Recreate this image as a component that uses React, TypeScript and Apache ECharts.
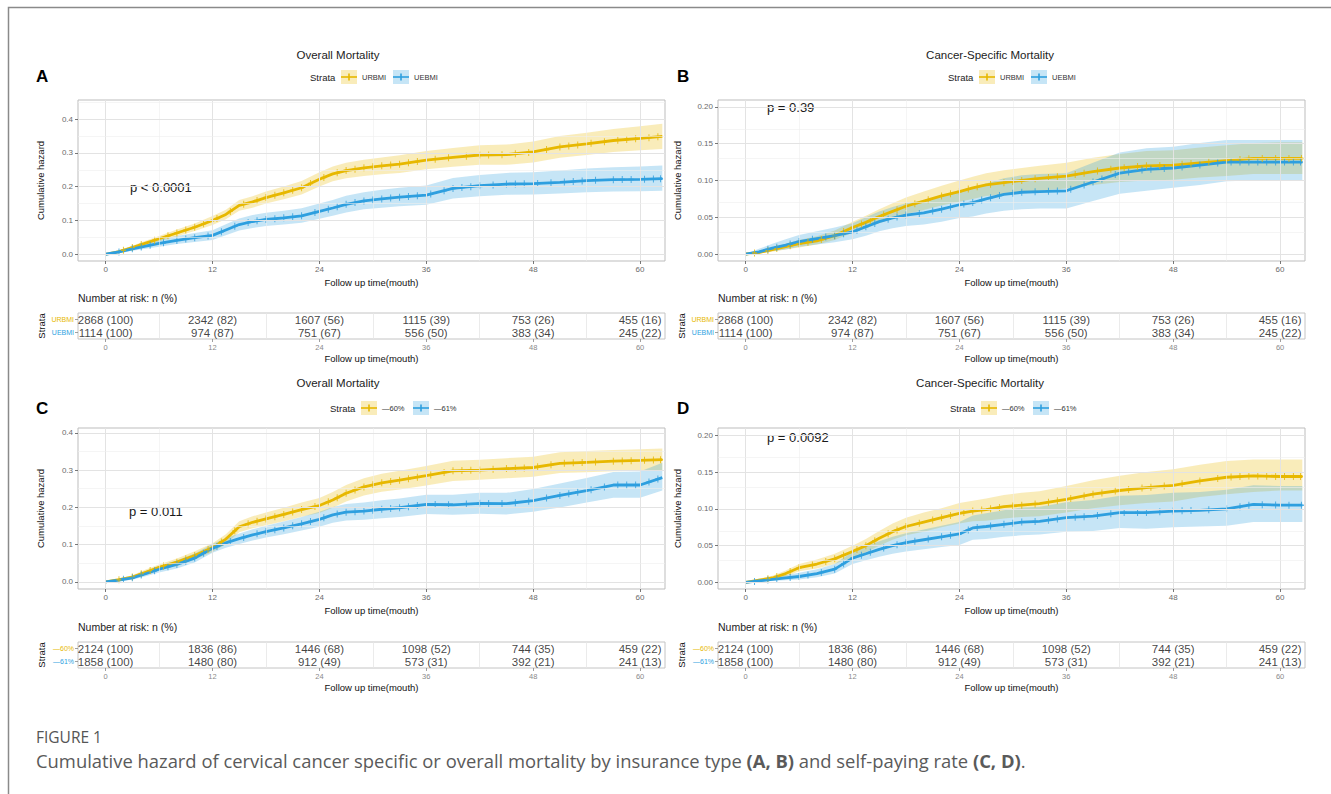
import React, { useEffect, useRef } from 'react';
import * as echarts from 'echarts';

// ---------- data ----------
const T = [0, 1.5, 3, 4.5, 6, 8, 10, 12, 13.5, 15, 16.5, 18, 20, 22, 24, 25.5, 27, 29, 31, 33, 36, 39, 42, 45, 48, 51, 54, 57, 60, 62.5];

// Panel A (overall mortality, insurance)
const A_URBMI = [0, 0.008, 0.02, 0.033, 0.046, 0.063, 0.08, 0.1, 0.118, 0.145, 0.155, 0.168, 0.182, 0.197, 0.222, 0.238, 0.248, 0.256, 0.262, 0.267, 0.279, 0.287, 0.294, 0.295, 0.303, 0.318, 0.327, 0.337, 0.343, 0.349];
const A_URBMI_UP = [0, 0.011, 0.025, 0.04, 0.054, 0.073, 0.091, 0.113, 0.132, 0.161, 0.172, 0.186, 0.201, 0.217, 0.243, 0.26, 0.271, 0.28, 0.287, 0.293, 0.306, 0.315, 0.323, 0.325, 0.334, 0.35, 0.36, 0.371, 0.379, 0.387];
const A_URBMI_LO = [0, 0.005, 0.015, 0.026, 0.038, 0.053, 0.069, 0.087, 0.104, 0.129, 0.138, 0.15, 0.163, 0.177, 0.201, 0.216, 0.225, 0.232, 0.237, 0.241, 0.252, 0.259, 0.265, 0.265, 0.272, 0.286, 0.294, 0.303, 0.308, 0.312];
const A_UEBMI = [0, 0.007, 0.016, 0.024, 0.032, 0.041, 0.049, 0.056, 0.072, 0.088, 0.097, 0.103, 0.108, 0.114, 0.127, 0.137, 0.148, 0.158, 0.164, 0.169, 0.175, 0.195, 0.203, 0.208, 0.209, 0.213, 0.218, 0.221, 0.222, 0.224];
const A_UEBMI_UP = [0, 0.012, 0.024, 0.034, 0.043, 0.054, 0.063, 0.071, 0.089, 0.106, 0.116, 0.123, 0.129, 0.136, 0.15, 0.161, 0.173, 0.184, 0.191, 0.197, 0.204, 0.226, 0.235, 0.241, 0.243, 0.248, 0.254, 0.258, 0.26, 0.263];
const A_UEBMI_LO = [0, 0.003, 0.01, 0.016, 0.022, 0.03, 0.036, 0.042, 0.056, 0.07, 0.078, 0.084, 0.088, 0.093, 0.105, 0.114, 0.124, 0.133, 0.138, 0.142, 0.147, 0.165, 0.172, 0.176, 0.177, 0.18, 0.184, 0.186, 0.187, 0.188];

// Panel B (cancer-specific mortality, insurance)
const B_URBMI = [0, 0.002, 0.006, 0.01, 0.014, 0.018, 0.025, 0.036, 0.043, 0.051, 0.058, 0.065, 0.072, 0.079, 0.085, 0.09, 0.094, 0.097, 0.1, 0.103, 0.106, 0.112, 0.117, 0.12, 0.121, 0.124, 0.127, 0.13, 0.13, 0.13];
const B_URBMI_UP = [0, 0.004, 0.009, 0.014, 0.019, 0.024, 0.032, 0.044, 0.052, 0.061, 0.069, 0.077, 0.085, 0.093, 0.1, 0.105, 0.11, 0.114, 0.117, 0.12, 0.124, 0.131, 0.136, 0.14, 0.141, 0.145, 0.148, 0.151, 0.152, 0.152];
const B_URBMI_LO = [0, 0.001, 0.003, 0.006, 0.009, 0.013, 0.019, 0.029, 0.035, 0.042, 0.048, 0.054, 0.06, 0.066, 0.071, 0.075, 0.079, 0.081, 0.084, 0.086, 0.089, 0.094, 0.098, 0.1, 0.101, 0.104, 0.106, 0.109, 0.109, 0.109];
const B_UEBMI = [0, 0.003, 0.008, 0.012, 0.017, 0.021, 0.025, 0.03, 0.037, 0.044, 0.049, 0.053, 0.056, 0.061, 0.067, 0.07, 0.075, 0.081, 0.084, 0.085, 0.086, 0.098, 0.11, 0.115, 0.117, 0.121, 0.125, 0.125, 0.125, 0.125];
const B_UEBMI_UP = [0, 0.007, 0.014, 0.02, 0.026, 0.031, 0.036, 0.042, 0.05, 0.058, 0.064, 0.069, 0.073, 0.079, 0.086, 0.09, 0.096, 0.103, 0.107, 0.109, 0.11, 0.124, 0.138, 0.144, 0.146, 0.151, 0.155, 0.155, 0.155, 0.155];
const B_UEBMI_LO = [0, 0.001, 0.004, 0.006, 0.01, 0.013, 0.016, 0.02, 0.025, 0.031, 0.035, 0.038, 0.04, 0.044, 0.049, 0.051, 0.055, 0.059, 0.061, 0.062, 0.062, 0.072, 0.082, 0.086, 0.09, 0.094, 0.099, 0.1, 0.1, 0.1];

// Panel C (overall mortality, self-paying rate)
const C_LOW = [0, 0.006, 0.013, 0.026, 0.039, 0.053, 0.071, 0.092, 0.115, 0.148, 0.16, 0.169, 0.181, 0.194, 0.205, 0.22, 0.238, 0.255, 0.266, 0.273, 0.285, 0.298, 0.3, 0.304, 0.307, 0.318, 0.321, 0.324, 0.326, 0.328];
const C_LOW_UP = [0, 0.009, 0.018, 0.033, 0.047, 0.063, 0.082, 0.104, 0.128, 0.163, 0.176, 0.186, 0.199, 0.213, 0.225, 0.241, 0.26, 0.278, 0.29, 0.298, 0.311, 0.325, 0.328, 0.332, 0.336, 0.348, 0.351, 0.354, 0.356, 0.358];
const C_LOW_LO = [0, 0.003, 0.008, 0.019, 0.031, 0.043, 0.06, 0.08, 0.102, 0.133, 0.144, 0.152, 0.163, 0.175, 0.185, 0.199, 0.216, 0.232, 0.242, 0.248, 0.259, 0.271, 0.274, 0.278, 0.282, 0.292, 0.294, 0.297, 0.298, 0.3];
const C_HIGH = [0, 0.005, 0.011, 0.022, 0.034, 0.047, 0.064, 0.09, 0.105, 0.116, 0.126, 0.135, 0.145, 0.156, 0.168, 0.18, 0.187, 0.19, 0.195, 0.199, 0.208, 0.207, 0.211, 0.21, 0.218, 0.232, 0.245, 0.26, 0.26, 0.28];
const C_HIGH_UP = [0, 0.008, 0.016, 0.029, 0.043, 0.058, 0.076, 0.102, 0.118, 0.13, 0.141, 0.151, 0.162, 0.174, 0.188, 0.201, 0.209, 0.213, 0.219, 0.224, 0.234, 0.234, 0.239, 0.239, 0.249, 0.264, 0.279, 0.295, 0.296, 0.32];
const C_HIGH_LO = [0, 0.002, 0.006, 0.015, 0.025, 0.036, 0.052, 0.078, 0.092, 0.102, 0.111, 0.119, 0.128, 0.138, 0.148, 0.159, 0.165, 0.167, 0.171, 0.174, 0.182, 0.18, 0.183, 0.181, 0.188, 0.2, 0.213, 0.226, 0.226, 0.245];

// Panel D (cancer-specific mortality, self-paying rate)
const D_LOW = [0, 0.003, 0.006, 0.012, 0.02, 0.025, 0.032, 0.042, 0.05, 0.06, 0.069, 0.076, 0.082, 0.088, 0.094, 0.097, 0.099, 0.103, 0.105, 0.107, 0.113, 0.12, 0.125, 0.129, 0.132, 0.138, 0.143, 0.145, 0.144, 0.144];
const D_LOW_UP = [0, 0.005, 0.009, 0.016, 0.025, 0.031, 0.039, 0.05, 0.059, 0.07, 0.08, 0.088, 0.095, 0.101, 0.108, 0.111, 0.114, 0.119, 0.122, 0.124, 0.131, 0.139, 0.145, 0.15, 0.154, 0.16, 0.165, 0.167, 0.167, 0.167];
const D_LOW_LO = [0, 0.001, 0.003, 0.008, 0.015, 0.019, 0.025, 0.034, 0.041, 0.05, 0.058, 0.064, 0.069, 0.075, 0.08, 0.083, 0.084, 0.087, 0.089, 0.09, 0.095, 0.101, 0.105, 0.108, 0.11, 0.116, 0.12, 0.123, 0.125, 0.125];
const D_HIGH = [0, 0.002, 0.004, 0.006, 0.008, 0.012, 0.018, 0.033, 0.039, 0.045, 0.05, 0.054, 0.058, 0.062, 0.066, 0.074, 0.076, 0.079, 0.082, 0.083, 0.088, 0.09, 0.095, 0.095, 0.097, 0.098, 0.1, 0.106, 0.105, 0.105];
const D_HIGH_UP = [0, 0.004, 0.007, 0.01, 0.013, 0.018, 0.025, 0.042, 0.049, 0.056, 0.062, 0.067, 0.072, 0.077, 0.082, 0.091, 0.094, 0.098, 0.102, 0.103, 0.109, 0.112, 0.118, 0.119, 0.122, 0.123, 0.126, 0.132, 0.131, 0.131];
const D_HIGH_LO = [0, 0.001, 0.002, 0.003, 0.004, 0.007, 0.012, 0.025, 0.03, 0.035, 0.039, 0.042, 0.045, 0.048, 0.051, 0.058, 0.059, 0.062, 0.064, 0.065, 0.069, 0.07, 0.074, 0.073, 0.075, 0.076, 0.077, 0.082, 0.082, 0.082];

// censoring times (visible "+" marks)
const CENS_1 = [2, 3, 4, 5.5, 7, 8, 9, 10, 11, 12.5, 14, 15.5, 17, 18, 19, 20, 21, 22, 23, 24.5, 26, 27, 28, 29, 30, 31, 32, 33, 34, 35, 37, 38.5, 40.5, 42, 43, 44.5, 46, 47.5, 49.5, 51, 52, 53, 54.5, 56, 57.5, 58.5, 59.5, 61, 62];
const CENS_2 = [1.5, 3, 4, 5, 6.5, 8, 9, 10, 11.5, 13, 14.5, 16, 17, 18, 19, 20, 21, 22, 23.5, 25, 26, 27, 28, 29, 30, 31, 32, 33, 34, 35, 36.5, 38, 39, 40, 41, 42, 43.5, 45, 46, 47, 48.5, 50, 51.5, 52.5, 53.5, 55, 57, 58, 59, 60.5, 61.5, 62.3];
const CENS_3 = [1, 2.5, 3.5, 5, 6, 7, 8.5, 10, 11, 12, 13, 14, 15.5, 17, 18, 19, 20.5, 22, 23, 24, 25, 26, 27.5, 29, 30, 31, 32.5, 34, 35, 37, 38, 39.5, 41, 42.5, 44, 45, 46.5, 48, 49, 50, 52, 54, 55.5, 56.5, 58, 59.5, 61, 62.4];
const CENS_4 = [2.5, 3.5, 5, 6, 7.5, 9, 10, 11, 12.5, 13.5, 14.5, 16, 17, 18, 19.5, 21, 22, 23, 24.5, 25.5, 26.5, 27.5, 28.5, 30, 31, 32.5, 34, 35, 36.5, 38, 39, 40, 41.5, 43, 44.5, 45.5, 47, 49, 51, 53, 54.5, 55.5, 56.5, 57.5, 58.5, 59.5, 60.5, 61.5, 62.3];

// time ticks
const XTICKS = [0, 12, 24, 36, 48, 60];
const XMINOR = [6, 18, 30, 42, 54];
const Y_TICKS_ALL = [0, 0.1, 0.2, 0.3, 0.4];
const Y_MINOR_ALL = [0.05, 0.15, 0.25, 0.35, 0.45];
const Y_TICKS_CS = [0, 0.05, 0.1, 0.15, 0.2];
const Y_MINOR_CS = [0.025, 0.075, 0.125, 0.175];

// risk tables
const RISK_TIMES = [0, 12, 24, 36, 48, 60];
const RISK_URBMI_N = [2868, 2342, 1607, 1115, 753, 455];
const RISK_URBMI_P = [100, 82, 56, 39, 26, 16];
const RISK_UEBMI_N = [1114, 974, 751, 556, 383, 245];
const RISK_UEBMI_P = [100, 87, 67, 50, 34, 22];
const RISK_LOW_N = [2124, 1836, 1446, 1098, 744, 459];
const RISK_LOW_P = [100, 86, 68, 52, 35, 22];
const RISK_HIGH_N = [1858, 1480, 912, 573, 392, 241];
const RISK_HIGH_P = [100, 80, 49, 31, 21, 13];

const STRATA_INS = ['URBMI', 'UEBMI'];
const STRATA_PAY = ['—60%', '—61%'];

// ---------- styles ----------
const FONT = '"Liberation Sans", Arial, Helvetica, sans-serif';
const CAP_FONT = '"Open Sans", sans-serif';
const COL_Y = '#E7B800';
const COL_B = '#2E9FDF';
const FILL_Y = 'rgba(231,184,0,0.27)';
const FILL_B = 'rgba(46,159,223,0.27)';
const XMIN = -3.1;
const XMAX = 62.8;
const PLUS = 'path://M4,0L6,0L6,4L10,4L10,6L6,6L6,10L4,10L4,6L0,6L0,4L4,4Z';

function interp(ts: number[], vs: number[], t: number) {
  for (let i = 1; i < ts.length; i++) {
    if (t <= ts[i]) {
      const f = (t - ts[i - 1]) / (ts[i] - ts[i - 1]);
      return vs[i - 1] + f * (vs[i] - vs[i - 1]);
    }
  }
  return vs[vs.length - 1];
}

const PANELS = [
  {
    letter: 'A', title: 'Overall Mortality', left: 78, top: 100, ymin: -0.02, ymax: 0.457,
    yt: Y_TICKS_ALL, ym: Y_MINOR_ALL, dec: 1, strata: STRATA_INS, pval: 'p < 0.0001', px: 130, py: 187,
    curves: [
      { v: A_URBMI, up: A_URBMI_UP, lo: A_URBMI_LO, cens: CENS_1, col: COL_Y, fill: FILL_Y },
      { v: A_UEBMI, up: A_UEBMI_UP, lo: A_UEBMI_LO, cens: CENS_2, col: COL_B, fill: FILL_B },
    ],
    risk: [[RISK_URBMI_N, RISK_URBMI_P], [RISK_UEBMI_N, RISK_UEBMI_P]],
    titleX: 338, titleY: 55, legY: 77, legX: 310, letterX: 36, letterY: 76, tableTop: 313,
  },
  {
    letter: 'B', title: 'Cancer-Specific Mortality', left: 718, top: 100, ymin: -0.0095, ymax: 0.2095,
    yt: Y_TICKS_CS, ym: Y_MINOR_CS, dec: 2, strata: STRATA_INS, pval: 'p = 0.39', px: 767, py: 107,
    curves: [
      { v: B_URBMI, up: B_URBMI_UP, lo: B_URBMI_LO, cens: CENS_3, col: COL_Y, fill: FILL_Y },
      { v: B_UEBMI, up: B_UEBMI_UP, lo: B_UEBMI_LO, cens: CENS_4, col: COL_B, fill: FILL_B },
    ],
    risk: [[RISK_URBMI_N, RISK_URBMI_P], [RISK_UEBMI_N, RISK_UEBMI_P]],
    titleX: 990, titleY: 55, legY: 77, legX: 948, letterX: 677, letterY: 76, tableTop: 313,
  },
  {
    letter: 'C', title: 'Overall Mortality', left: 78, top: 428, ymin: -0.019, ymax: 0.413,
    yt: Y_TICKS_ALL, ym: Y_MINOR_ALL, dec: 1, strata: STRATA_PAY, pval: 'p = 0.011', px: 129, py: 511,
    curves: [
      { v: C_LOW, up: C_LOW_UP, lo: C_LOW_LO, cens: CENS_2, col: COL_Y, fill: FILL_Y },
      { v: C_HIGH, up: C_HIGH_UP, lo: C_HIGH_LO, cens: CENS_1, col: COL_B, fill: FILL_B },
    ],
    risk: [[RISK_LOW_N, RISK_LOW_P], [RISK_HIGH_N, RISK_HIGH_P]],
    titleX: 338, titleY: 383, legY: 408, legX: 330, letterX: 36, letterY: 408, tableTop: 642,
  },
  {
    letter: 'D', title: 'Cancer-Specific Mortality', left: 718, top: 428, ymin: -0.009, ymax: 0.21,
    yt: Y_TICKS_CS, ym: Y_MINOR_CS, dec: 2, strata: STRATA_PAY, pval: 'p = 0.0092', px: 767, py: 437,
    curves: [
      { v: D_LOW, up: D_LOW_UP, lo: D_LOW_LO, cens: CENS_4, col: COL_Y, fill: FILL_Y },
      { v: D_HIGH, up: D_HIGH_UP, lo: D_HIGH_LO, cens: CENS_3, col: COL_B, fill: FILL_B },
    ],
    risk: [[RISK_LOW_N, RISK_LOW_P], [RISK_HIGH_N, RISK_HIGH_P]],
    titleX: 980, titleY: 383, legY: 408, legX: 950, letterX: 677, letterY: 408, tableTop: 642,
  },
];

const PLOT_W = 587;
const PLOT_H = 161;
const TABLE_H = 26;

function buildOption() {
  const grid: any[] = [];
  const xAxis: any[] = [];
  const yAxis: any[] = [];
  const series: any[] = [];
  const graphic: any[] = [];

  const tickLabel = { fontSize: 8, color: '#6b6b6b', fontFamily: FONT };
  const axisName = { fontSize: 9.5, color: '#111', fontFamily: FONT };

  PANELS.forEach((p, i) => {
    const gPlot = i * 2;
    const gTab = i * 2 + 1;
    grid.push({ left: p.left, top: p.top, width: PLOT_W, height: PLOT_H, show: true, borderColor: '#bdbdbd', borderWidth: 1, backgroundColor: '#fff' });
    grid.push({ left: p.left, top: p.tableTop, width: PLOT_W, height: TABLE_H, show: true, borderColor: '#c4c4c4', borderWidth: 1, backgroundColor: '#fff' });

    xAxis.push({
      gridIndex: gPlot, type: 'value', min: XMIN, max: XMAX, position: 'bottom',
      axisLine: { show: false, onZero: false },
      axisTick: { show: true, customValues: XTICKS, length: 3, lineStyle: { color: '#555', width: 0.8 } },
      axisLabel: { show: true, customValues: XTICKS, margin: 4, ...tickLabel },
      splitLine: { show: false },
      name: 'Follow up time(mouth)', nameLocation: 'middle', nameGap: 16, nameTextStyle: axisName,
    });
    xAxis.push({
      gridIndex: gTab, type: 'value', min: XMIN, max: XMAX, position: 'bottom',
      axisLine: { show: false, onZero: false },
      axisTick: { show: true, customValues: XTICKS, length: 3, lineStyle: { color: '#888', width: 0.8 } },
      axisLabel: { show: true, customValues: XTICKS, margin: 4, fontSize: 7.5, color: '#8a8a8a', fontFamily: FONT },
      splitLine: { show: false },
      name: 'Follow up time(mouth)', nameLocation: 'middle', nameGap: 14, nameTextStyle: axisName,
    });
    yAxis.push({
      gridIndex: gPlot, type: 'value', min: p.ymin, max: p.ymax, position: 'left',
      axisLine: { show: false, onZero: false },
      axisTick: { show: true, customValues: p.yt, length: 3, lineStyle: { color: '#555', width: 0.8 } },
      axisLabel: { show: true, customValues: p.yt, margin: 5, formatter: (v: number) => v.toFixed(p.dec), ...tickLabel },
      splitLine: { show: false },
      name: 'Cumulative hazard', nameLocation: 'middle', nameRotate: 90, nameGap: p.dec === 1 ? 33 : 36, nameTextStyle: axisName,
    });
    const cats = [p.strata[1], p.strata[0]];
    yAxis.push({
      gridIndex: gTab, type: 'category', data: cats, position: 'left',
      axisLine: { show: false, onZero: false },
      axisTick: { show: true, alignWithLabel: true, length: 3, lineStyle: { color: '#888', width: 0.8 } },
      axisLabel: {
        show: true, margin: 4, fontSize: 7, fontFamily: FONT,
        formatter: (v: string) => (v === p.strata[0] ? `{y|${v}}` : `{b|${v}}`),
        rich: { y: { color: COL_Y, fontSize: 7, fontFamily: FONT }, b: { color: COL_B, fontSize: 7, fontFamily: FONT } },
      },
      splitLine: { show: false },
      name: 'Strata', nameLocation: 'middle', nameRotate: 90, nameGap: 32, nameTextStyle: axisName,
    });

    // grid lines
    const major = { color: '#e3e3e3', width: 1, type: 'solid' };
    const minor = { color: '#eeeeee', width: 0.6, type: 'solid' };
    const lines: any[] = [];
    XTICKS.forEach((v) => lines.push({ xAxis: v, lineStyle: major }));
    XMINOR.forEach((v) => lines.push({ xAxis: v, lineStyle: minor }));
    p.yt.forEach((v) => lines.push({ yAxis: v, lineStyle: major }));
    p.ym.forEach((v) => { if (v < p.ymax) lines.push({ yAxis: v, lineStyle: minor }); });
    series.push({
      type: 'line', xAxisIndex: gPlot, yAxisIndex: gPlot, data: [], silent: true, z: 1,
      markLine: { silent: true, symbol: ['none', 'none'], label: { show: false }, animation: false, data: lines },
    });
    const tLines = XMINOR.map((v) => ({ xAxis: v, lineStyle: { color: '#e6e6e6', width: 0.8, type: 'solid' } }));
    series.push({
      type: 'line', xAxisIndex: gTab, yAxisIndex: gTab, data: [], silent: true, z: 1,
      markLine: { silent: true, symbol: ['none', 'none'], label: { show: false }, animation: false, data: tLines },
    });

    // ribbons
    p.curves.forEach((c, ci) => {
      series.push({
        type: 'custom', name: p.strata[ci] + ' CI', xAxisIndex: gPlot, yAxisIndex: gPlot, clip: true, silent: true, z: 2,
        data: [[0, 0]],
        renderItem: (params: any, api: any) => {
          const pts: number[][] = [];
          for (let k = 0; k < T.length; k++) pts.push(api.coord([T[k], c.up[k]]));
          for (let k = T.length - 1; k >= 0; k--) pts.push(api.coord([T[k], c.lo[k]]));
          return { type: 'polygon', shape: { points: pts }, style: { fill: c.fill } };
        },
      });
    });
    // lines + censor marks
    p.curves.forEach((c, ci) => {
      series.push({
        type: 'line', name: p.strata[ci], xAxisIndex: gPlot, yAxisIndex: gPlot, z: 3, silent: true,
        showSymbol: false, data: T.map((t, k) => [t, c.v[k]]),
        lineStyle: { color: c.col, width: 2.8 }, itemStyle: { color: c.col },
      });
      series.push({
        type: 'scatter', name: p.strata[ci] + ' censor', xAxisIndex: gPlot, yAxisIndex: gPlot, z: 4, silent: true,
        symbol: PLUS, symbolSize: [5, 7], itemStyle: { color: c.col },
        data: c.cens.map((t) => [t, interp(T, c.v, t)]),
      });
    });
    // risk table text
    p.risk.forEach((r, ri) => {
      series.push({
        type: 'scatter', xAxisIndex: gTab, yAxisIndex: gTab, z: 5, silent: true,
        symbolSize: 0, itemStyle: { color: 'rgba(0,0,0,0)' },
        data: RISK_TIMES.map((t, k) => ({
          value: [t, p.strata[ri]],
          label: { show: true, position: 'inside', formatter: `${r[0][k]} (${r[1][k]})`, fontSize: 11.5, color: '#111', fontFamily: FONT },
        })),
      });
    });

    // texts
    graphic.push({ type: 'text', x: p.titleX, y: p.titleY, style: { text: p.title, fill: '#222', fontSize: 11.5, fontFamily: FONT, align: 'center', verticalAlign: 'middle' } });
    graphic.push({ type: 'text', x: p.letterX, y: p.letterY, style: { text: p.letter, fill: '#000', fontSize: 17, fontWeight: 'bold', fontFamily: FONT, align: 'left', verticalAlign: 'middle' } });
    graphic.push({ type: 'text', x: p.px, y: p.py, style: { text: p.pval, fill: '#1a1a1a', fontSize: 13, fontFamily: FONT, align: 'left', verticalAlign: 'middle' } });
    graphic.push({ type: 'text', x: p.left, y: p.tableTop - 15, style: { text: 'Number at risk: n (%)', fill: '#222', fontSize: 10.5, fontFamily: FONT, align: 'left', verticalAlign: 'middle' } });
    // legend
    let lx = p.legX;
    graphic.push({ type: 'text', x: lx, y: p.legY, style: { text: 'Strata', fill: '#222', fontSize: 9.5, fontFamily: FONT, align: 'left', verticalAlign: 'middle' } });
    lx += 31;
    p.curves.forEach((c, ci) => {
      graphic.push({ type: 'rect', shape: { x: lx, y: p.legY - 7, width: 16, height: 14 }, style: { fill: c.fill } });
      graphic.push({ type: 'line', shape: { x1: lx, y1: p.legY, x2: lx + 16, y2: p.legY }, style: { stroke: c.col, lineWidth: 1.6 } });
      graphic.push({ type: 'line', shape: { x1: lx + 8, y1: p.legY - 3.5, x2: lx + 8, y2: p.legY + 3.5 }, style: { stroke: c.col, lineWidth: 1.6 } });
      graphic.push({ type: 'text', x: lx + 21, y: p.legY, style: { text: p.strata[ci], fill: '#333', fontSize: 7.5, fontFamily: FONT, align: 'left', verticalAlign: 'middle' } });
      lx += 52;
    });
  });

  // frame & caption
  graphic.push({ type: 'rect', shape: { x: 8.5, y: 7.5, width: 1340, height: 800 }, style: { fill: 'none', stroke: '#8a8a8a', lineWidth: 1.5 }, z: 0 });
  graphic.push({ type: 'text', x: 36, y: 737, style: { text: 'FIGURE 1', fill: '#555', fontSize: 15.5, fontFamily: CAP_FONT, align: 'left', verticalAlign: 'middle' } });
  graphic.push({
    type: 'text', x: 36, y: 760,
    style: {
      text: '{n|Cumulative hazard of cervical cancer specific or overall mortality by insurance type }{b|(A, B)}{n| and self-paying rate }{b|(C, D)}{n|.}',
      align: 'left', verticalAlign: 'middle',
      rich: {
        n: { fill: '#5a5a5a', fontSize: 18.4, fontFamily: CAP_FONT },
        b: { fill: '#5a5a5a', fontSize: 18.4, fontWeight: 'bold', fontFamily: CAP_FONT },
      },
    },
  });

  return { animation: false, backgroundColor: '#fff', grid, xAxis, yAxis, series, graphic };
}

export default function App() {
  const ref = useRef<HTMLDivElement>(null);
  useEffect(() => {
    if (!ref.current) return;
    const chart = echarts.init(ref.current, null, { renderer: 'svg' });
    chart.setOption(buildOption() as any);
    return () => chart.dispose();
  }, []);
  return <div ref={ref} style={{ position: 'absolute', left: 0, top: 0, width: 1331, height: 794 }} />;
}
